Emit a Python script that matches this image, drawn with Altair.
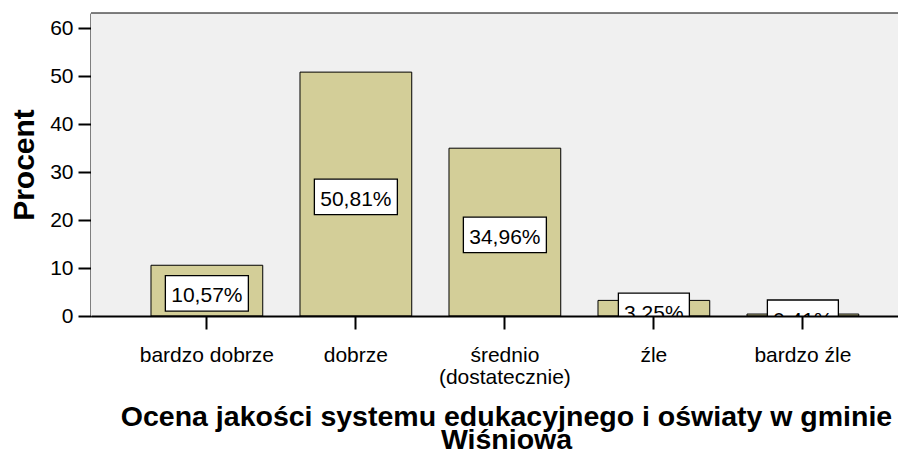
import altair as alt
import pandas as pd

categories = ["bardzo dobrze", "dobrze", "średnio (dostatecznie)", "źle", "bardzo źle"]
percents = [10.57, 50.81, 34.96, 3.25, 0.41]
y_ticks = [0, 10, 20, 30, 40, 50, 60]
y_title = "Procent"
x_title = ["Ocena jakości systemu edukacyjnego i oświaty w gminie", "Wiśniowa"]

df = pd.DataFrame({"cat": categories, "val": percents})
df["lab"] = [f"{v:.2f}%".replace(".", ",") for v in percents]

FONT = "Liberation Sans"
BAR = "#D3CE98"
PANEL = "#F0F0F0"

xscale = alt.Scale(paddingInner=0.25, paddingOuter=0.333, align=0.6045)

xenc = alt.X(
    "cat:N",
    sort=categories,
    scale=xscale,
    axis=alt.Axis(
        title=x_title,
        titleFont=FONT,
        titleFontSize=28.5,
        titleFontWeight="bold",
        titleLineHeight=23,
        titlePadding=15,
        titleX=415,
        titleColor="black",
        labelFont=FONT,
        labelFontSize=21,
        labelColor="black",
        labelAngle=0,
        labelPadding=15,
        labelLineHeight=22,
        labelExpr="split(replace(datum.label, ' (', '|('), '|')",
        tickSize=13,
        tickWidth=2,
        tickColor="black",
        domainWidth=2,
        domainColor="black",
        zindex=1,
        grid=False,
    ),
)

one = pd.DataFrame({"k": [0]})

# panel background and top frame line (the plot runs off the page edge on the right)
panel = alt.Chart(one).mark_rect(color=PANEL).encode(
    x=alt.value(0), x2=alt.value("width"), y=alt.value(0), y2=alt.value("height")
)
top_line = alt.Chart(one).mark_rule(color="black", strokeWidth=1).encode(
    x=alt.value(0), x2=alt.value("width"), y=alt.value(0)
)

base = alt.Chart(df).encode(x=xenc)

bars = base.mark_bar(fill=BAR, stroke="black", strokeWidth=1, clip=True).encode(
    y=alt.Y(
        "val:Q",
        scale=alt.Scale(domain=[0, 63.125], nice=False, zero=True),
        axis=alt.Axis(
            values=y_ticks,
            title=y_title,
            titleFont=FONT,
            titleFontSize=30,
            titleFontWeight="bold",
            titleColor="black",
            titlePadding=10,
            labelFont=FONT,
            labelFontSize=21,
            labelColor="black",
            labelPadding=5,
            tickSize=13,
            tickWidth=2,
            tickColor="black",
            domainWidth=2,
            domainColor="black",
            grid=False,
        ),
    )
)

mid = base.transform_calculate(mid="datum.val / 2")

box_long = mid.transform_filter("length(datum.lab) > 5").mark_bar(
    width=83, fill="white", stroke="black", strokeWidth=1.3,
    yOffset=-15, y2Offset=20.5, clip=True
).encode(y="mid:Q", y2="mid:Q")

box_short = mid.transform_filter("length(datum.lab) <= 5").mark_bar(
    width=71, fill="white", stroke="black", strokeWidth=1.3,
    yOffset=-15, y2Offset=20.5, clip=True
).encode(y="mid:Q", y2="mid:Q")

texts = mid.mark_text(
    font=FONT, fontSize=21, color="black", baseline="alphabetic", dy=11.5, clip=True
).encode(y="mid:Q", text="lab:N")

chart = (
    alt.layer(panel, bars, box_long, box_short, texts, top_line)
    .properties(
        width=807,
        height=303,
        autosize=alt.AutoSizeParams(type="none"),
        padding={"left": 83, "top": 5, "right": 0, "bottom": 133},
    )
    .configure_view(stroke=None)
    .configure(background="white")
)

chart.save("out.html", embed_options={"renderer": "svg", "actions": False})
